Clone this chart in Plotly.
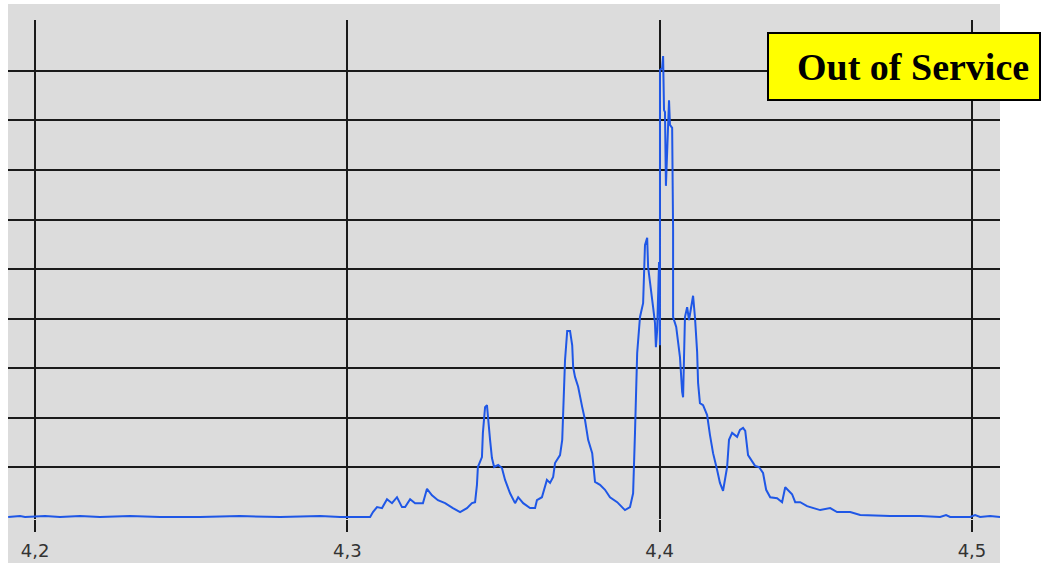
import plotly.graph_objects as go

# Spectrum trace (x in axis units, y in grid units)
x_vals = [
    4.1914, 4.1952, 4.1968, 4.2032, 4.2080, 4.2144, 4.2208, 4.2304, 4.2400, 4.2528,
    4.2656, 4.2785, 4.2913, 4.2977, 4.3073, 4.3082, 4.3095, 4.3111, 4.3127, 4.3143,
    4.3159, 4.3175, 4.3185, 4.3201, 4.3217, 4.3242, 4.3255, 4.3271, 4.3290, 4.3313,
    4.3338, 4.3361, 4.3383, 4.3399, 4.3409, 4.3415, 4.3418, 4.3431, 4.3434, 4.3441,
    4.3447, 4.3450, 4.3457, 4.3463, 4.3470, 4.3483, 4.3495, 4.3505, 4.3521, 4.3537,
    4.3547, 4.3563, 4.3585, 4.3601, 4.3607, 4.3623, 4.3639, 4.3649, 4.3659, 4.3665,
    4.3681, 4.3688, 4.3691, 4.3697, 4.3704, 4.3713, 4.3720, 4.3723, 4.3729, 4.3739,
    4.3752, 4.3761, 4.3771, 4.3784, 4.3793, 4.3809, 4.3825, 4.3841, 4.3864, 4.3889,
    4.3905, 4.3915, 4.3921, 4.3928, 4.3937, 4.3947, 4.3953, 4.3960, 4.3963, 4.3972,
    4.3979, 4.3985, 4.3988, 4.3992, 4.3998, 4.4001, 4.4001, 4.4008, 4.4011, 4.4014,
    4.4017, 4.4020, 4.4027, 4.4030, 4.4033, 4.4040, 4.4043, 4.4043, 4.4053, 4.4056,
    4.4065, 4.4072, 4.4075, 4.4081, 4.4088, 4.4094, 4.4104, 4.4107, 4.4113, 4.4120,
    4.4123, 4.4129, 4.4139, 4.4152, 4.4161, 4.4171, 4.4184, 4.4193, 4.4203, 4.4216,
    4.4222, 4.4232, 4.4248, 4.4257, 4.4267, 4.4274, 4.4283, 4.4306, 4.4318, 4.4331,
    4.4341, 4.4354, 4.4376, 4.4392, 4.4402, 4.4411, 4.4424, 4.4434, 4.4450, 4.4472,
    4.4491, 4.4514, 4.4546, 4.4568, 4.4610, 4.4642, 4.4738, 4.4834, 4.4898, 4.4917,
    4.4930, 4.4994, 4.5010, 4.5026, 4.5058, 4.5090,
]
y_vals = [
    -0.01, 0.01, -0.01, 0.01, -0.01, 0.01, -0.01, 0.01, -0.01, -0.01,
    0.01, -0.01, 0.01, -0.01, -0.01, 0.09, 0.19, 0.17, 0.35, 0.27,
    0.39, 0.19, 0.19, 0.35, 0.27, 0.27, 0.56, 0.43, 0.33, 0.27,
    0.17, 0.09, 0.17, 0.27, 0.29, 0.64, 1.00, 1.20, 1.69, 2.21,
    2.25, 2.01, 1.55, 1.18, 1.00, 1.04, 0.98, 0.74, 0.47, 0.27,
    0.39, 0.27, 0.17, 0.17, 0.33, 0.39, 0.74, 0.68, 0.80, 1.08,
    1.24, 1.55, 2.25, 3.16, 3.75, 3.75, 3.46, 3.02, 2.82, 2.62,
    2.21, 1.95, 1.55, 1.28, 0.70, 0.64, 0.54, 0.39, 0.29, 0.13,
    0.19, 0.47, 1.69, 3.30, 4.03, 4.31, 5.48, 5.63, 5.04, 4.63,
    4.23, 3.91, 3.42, 3.77, 5.14, 3.46, 9.02, 9.06, 9.30, 8.21,
    8.17, 6.68, 7.85, 8.41, 7.91, 7.85, 5.79, 4.03, 3.83, 3.67,
    3.22, 2.52, 2.41, 4.03, 4.23, 3.97, 4.36, 4.46, 4.03, 3.32,
    2.70, 2.29, 2.25, 2.05, 1.65, 1.28, 0.94, 0.68, 0.52, 1.00,
    1.55, 1.69, 1.61, 1.75, 1.79, 1.73, 1.24, 1.02, 1.00, 0.88,
    0.54, 0.39, 0.37, 0.29, 0.59, 0.54, 0.45, 0.29, 0.29, 0.21,
    0.17, 0.13, 0.17, 0.09, 0.09, 0.03, 0.01, 0.01, -0.01, 0.03,
    -0.01, -0.01, 0.03, -0.01, 0.01, -0.01,
]

x_ticks = [4.2, 4.3, 4.4, 4.5]
x_tick_labels = ["4,2", "4,3", "4,4", "4,5"]
y_grid = [1, 2, 3, 4, 5, 6, 7, 8, 9]
badge_text = "Out of Service"

fig = go.Figure()
fig.add_trace(go.Scatter(
    x=x_vals, y=y_vals, mode="lines",
    line=dict(color="#1f57e6", width=2),
    hoverinfo="skip", showlegend=False,
))

W, H = 1050, 563
ml, mr, mt, mb = 8, 50, 20, 44
pw, ph = W - ml - mr, H - mt - mb


def px_x(p):
    return (p - ml) / pw


def px_y(p):
    return (H - mb - p) / ph


fig.update_layout(
    width=W, height=H,
    margin=dict(l=ml, r=mr, t=mt, b=mb, autoexpand=False),
    paper_bgcolor="white",
    plot_bgcolor="#dcdcdc",
    separators=",.",
    xaxis=dict(
        range=[4.19135, 4.50897],
        tickvals=x_ticks, ticktext=x_tick_labels,
        showgrid=True, gridcolor="#1a1a1a", gridwidth=2,
        ticks="outside", ticklen=12, tickwidth=2, tickcolor="#1a1a1a",
        tickfont=dict(family="DejaVu Sans", size=18, color="#333333"),
        ticklabelstandoff=3,
        automargin=False,
        zeroline=False, showline=False, fixedrange=True,
    ),
    yaxis=dict(
        range=[-0.05, 10.03],
        tickvals=y_grid, showticklabels=False,
        showgrid=True, gridcolor="#1a1a1a", gridwidth=2,
        ticks="", zeroline=False, showline=False, fixedrange=True,
        automargin=False,
    ),
    shapes=[
        dict(type="rect", xref="paper", yref="paper",
             x0=0, x1=1, y0=px_y(563), y1=px_y(4),
             fillcolor="#dcdcdc", line=dict(width=0), layer="below"),
        dict(type="rect", xref="paper", yref="paper",
             x0=px_x(768), x1=px_x(1040), y0=px_y(100), y1=px_y(33),
             fillcolor="#ffff00", line=dict(color="black", width=2), layer="above"),
    ],
    annotations=[
        dict(text="<b>" + badge_text + "</b>", xref="paper", yref="paper",
             x=px_x(913), y=px_y(67), xanchor="center", yanchor="middle",
             showarrow=False,
             font=dict(family="Liberation Serif", size=38, color="black")),
    ],
)

fig.write_html(
    "out.html",
    config={"displayModeBar": False},
    post_script="document.body.style.margin='0';",
)
